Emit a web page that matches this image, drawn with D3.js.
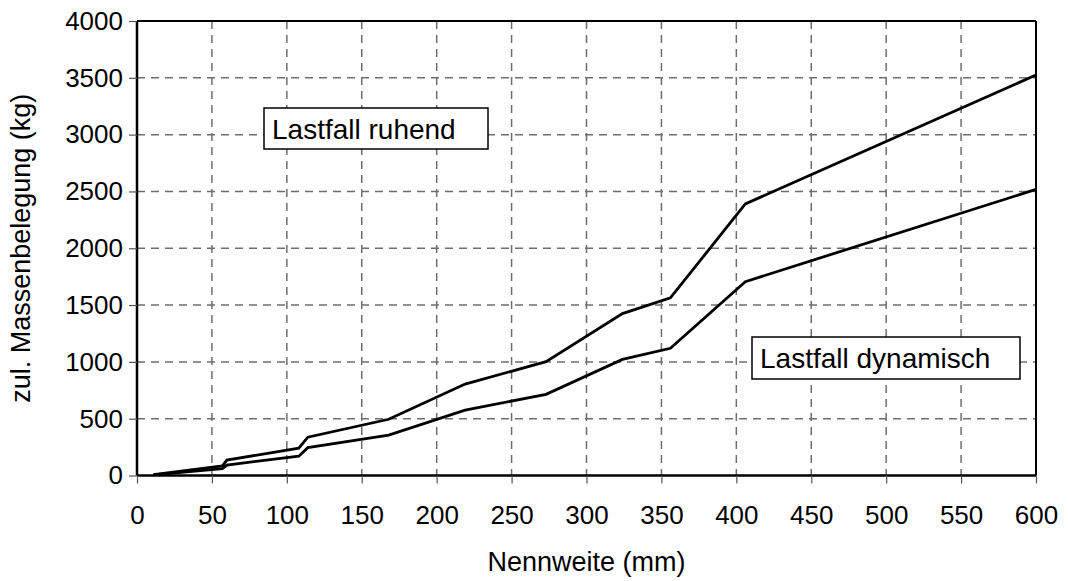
<!DOCTYPE html>
<html>
<head>
<meta charset="utf-8">
<script src="https://cdn.jsdelivr.net/npm/d3@7"></script>
<style>
  html, body { margin: 0; padding: 0; background: #fff; }
  svg { display: block; font-family: "Liberation Sans", Arial, sans-serif; }
</style>
</head>
<body>
<svg id="chart" width="1068" height="581"></svg>
<script>
// Data
const nennweite = [11, 57, 60, 108, 114, 168, 219, 273, 324, 356, 406, 600];
const ruhend    = [8, 85, 136, 240, 337, 495, 805, 1002, 1425, 1563, 2390, 3525];
const dynamisch = [6, 60, 92, 170, 245, 356, 575, 714, 1022, 1120, 1706, 2518];
const xTicks = [0, 50, 100, 150, 200, 250, 300, 350, 400, 450, 500, 550, 600];
const yTicks = [0, 500, 1000, 1500, 2000, 2500, 3000, 3500, 4000];
const labelRuhend = "Lastfall ruhend";
const labelDynamisch = "Lastfall dynamisch";
const xTitle = "Nennweite (mm)";
const yTitle = "zul. Massenbelegung (kg)";

const svg = d3.select("#chart");
const L = 137, R = 1036, T = 21, B = 475.5;

const x = d3.scaleLinear().domain([0, 600]).range([L, R]);
const y = d3.scaleLinear().domain([0, 4000]).range([B, T]);

// grid
const grid = svg.append("g");
grid.selectAll("line.v").data(xTicks.filter(d => d > 0 && d < 600)).enter()
  .append("line").attr("x1", d => x(d)).attr("x2", d => x(d))
  .attr("y1", T).attr("y2", B)
  .attr("stroke", "#6e6e6e").attr("stroke-width", 1.5).attr("stroke-dasharray", "8,6");
grid.selectAll("line.h").data(yTicks.filter(d => d > 0 && d < 4000)).enter()
  .append("line").attr("y1", d => y(d)).attr("y2", d => y(d))
  .attr("x1", L).attr("x2", R)
  .attr("stroke", "#6e6e6e").attr("stroke-width", 1.5).attr("stroke-dasharray", "8,6");

// plot border (top/right)
svg.append("line").attr("x1", L).attr("x2", R).attr("y1", T).attr("y2", T)
  .attr("stroke", "#000").attr("stroke-width", 2);
svg.append("line").attr("x1", R).attr("x2", R).attr("y1", T).attr("y2", B)
  .attr("stroke", "#000").attr("stroke-width", 2);

// axes
const xAxis = d3.axisBottom(x).tickValues(xTicks).tickSize(8).tickPadding(22).tickFormat(d3.format("d"));
const yAxis = d3.axisLeft(y).tickValues(yTicks).tickSize(8).tickPadding(6).tickFormat(d3.format("d"));

const gx = svg.append("g").attr("transform", `translate(0,${B})`).call(xAxis);
const gy = svg.append("g").attr("transform", `translate(${L},0)`).call(yAxis);
[gx, gy].forEach(g => {
  g.select(".domain").attr("stroke", "#000").attr("stroke-width", 2.5);
  g.selectAll(".tick line").attr("stroke", "#555").attr("stroke-width", 1.2);
  g.selectAll(".tick text").attr("fill", "#000").attr("font-size", 26)
    .attr("font-family", "Liberation Sans, Arial, sans-serif");
});
gx.select(".domain").attr("d", `M${L},0H${R}`);
gy.select(".domain").attr("d", `M0,${B}V${T}`);

// lines
const line = d3.line().x(d => x(d[0])).y(d => y(d[1]));
[ruhend, dynamisch].forEach(vals => {
  svg.append("path")
    .datum(nennweite.map((n, i) => [n, vals[i]]))
    .attr("d", line)
    .attr("fill", "none").attr("stroke", "#000").attr("stroke-width", 2.8)
    .attr("stroke-linejoin", "miter");
});

// label boxes
function box(text, bx, by, bw, bh) {
  const g = svg.append("g");
  g.append("rect").attr("x", bx).attr("y", by).attr("width", bw).attr("height", bh)
    .attr("fill", "#fff").attr("stroke", "#000").attr("stroke-width", 1.5);
  g.append("text").attr("x", bx + 8).attr("y", by + bh / 2 + 10)
    .attr("font-size", 28).attr("fill", "#000").text(text);
}
box(labelRuhend, 264, 108, 224, 41);
box(labelDynamisch, 752, 337, 268, 42);

// titles
svg.append("text").attr("x", (L + R) / 2).attr("y", 571)
  .attr("text-anchor", "middle").attr("font-size", 27).attr("fill", "#000").text(xTitle);
svg.append("text").attr("transform", `translate(30,${(T + B) / 2}) rotate(-90)`)
  .attr("text-anchor", "middle").attr("font-size", 27).attr("fill", "#000").text(yTitle);
</script>
</body>
</html>
